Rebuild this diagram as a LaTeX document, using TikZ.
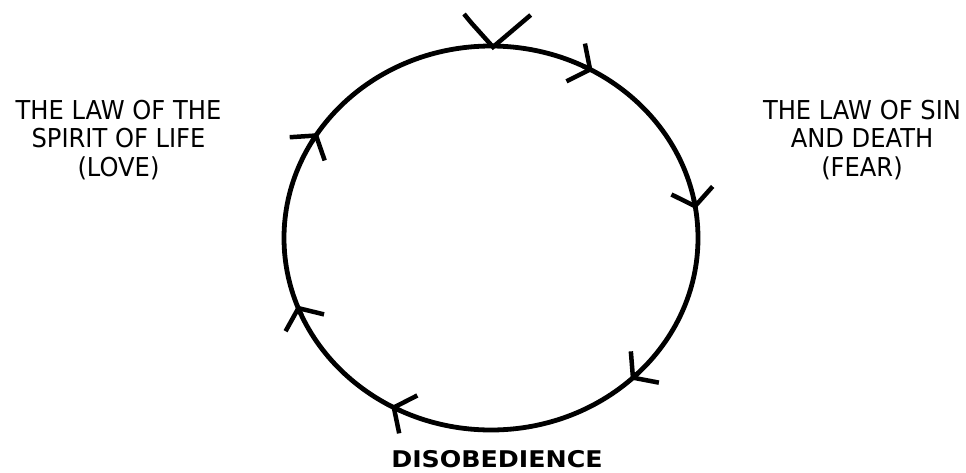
\documentclass[tikz,border=0pt]{standalone}
\usepackage{fontspec}
\setmainfont{DejaVu Sans}
\newfontfamily\lawfont{DejaVu Sans}[FakeStretch=0.93]
\newfontfamily\widebold{DejaVu Sans}[FakeStretch=1.1]
\usetikzlibrary{arrows.meta}

\begin{document}
\begin{tikzpicture}[
    x=1pt, y=-1pt,
    cycle/.style={draw=black, line width=4.8pt},
    barb/.style={line width=4.5pt, -{Straight Barb[length=16pt, width=42pt]}},
    lawtext/.style={align=center, inner sep=0pt,
        font=\lawfont\fontsize{26}{28.5}\selectfont},
    mainlabel/.style={inner sep=0pt, font=\widebold\bfseries\fontsize{23}{26}\selectfont}
]
\useasboundingbox (0,0) rectangle (966,472);

% The cycle
\draw[cycle] (491,238) ellipse [x radius=207, y radius=192];

% Clockwise arrow heads
\foreach \t in {60.6, 8.7, -47.5, -118.8, 200.6, 146.9} {
    \draw[barb] ({491+207*cos(\t+3)}, {238-192*sin(\t+3)})
        -- ({491+207*cos(\t)}, {238-192*sin(\t)});
}

% Mark at the top
\draw[line width=4.5pt] (464,14) -- (471.7,23.3) -- (493,47) -- (530.7,15);

% Labels
\node[lawtext] (spirit) at (118.5,140) {THE LAW OF THE\\SPIRIT OF LIFE\\(LOVE)};
\node[lawtext] (sindeath) at (862,140) {THE LAW OF SIN\\AND DEATH\\(FEAR)};
\node[mainlabel] (disobey) at (497,459.5) {DISOBEDIENCE};

\end{tikzpicture}
\end{document}
